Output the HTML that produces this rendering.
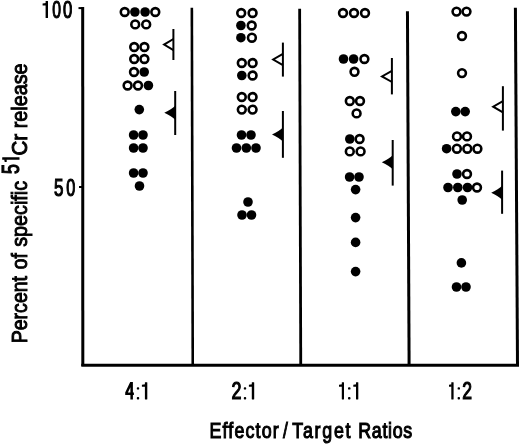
<!DOCTYPE html>
<html><head><meta charset="utf-8"><style>
html,body{margin:0;padding:0;background:#fff;}
svg{display:block;filter:grayscale(1);}
</style></head><body>
<svg width="520" height="445" viewBox="0 0 520 445">
<rect width="520" height="445" fill="#fff"/>
<path d="M82.7 7 L82.8 366" stroke="#000" stroke-width="3" fill="none"/>
<path d="M78.5 8.1 L84 8.1" stroke="#000" stroke-width="2" fill="none"/>
<path d="M79 187 L83 187" stroke="#000" stroke-width="2" fill="none"/>
<path d="M81.3 365.2 L519 365.2" stroke="#000" stroke-width="3" fill="none"/>
<path d="M191.85 7.7 L192.75 365" stroke="#000" stroke-width="2.6" fill="none"/>
<path d="M299.65 8.8 L300.75 365" stroke="#000" stroke-width="2.8" fill="none"/>
<path d="M407.45 11.2 L409.1 365" stroke="#000" stroke-width="3" fill="none"/>
<path d="M515.4 7.75 L517.5 366" stroke="#000" stroke-width="3" fill="none"/>
<circle cx="124.7" cy="12" r="3.9000000000000004" fill="#fff" stroke="#000" stroke-width="2.6"/>
<circle cx="134.9" cy="12" r="4.8" fill="#000"/>
<circle cx="145.1" cy="12" r="4.8" fill="#000"/>
<circle cx="155.3" cy="12" r="3.9000000000000004" fill="#fff" stroke="#000" stroke-width="2.6"/>
<circle cx="135.2" cy="24.4" r="3.9000000000000004" fill="#fff" stroke="#000" stroke-width="2.6"/>
<circle cx="146.2" cy="24.4" r="3.9000000000000004" fill="#fff" stroke="#000" stroke-width="2.6"/>
<circle cx="134.2" cy="47" r="3.9000000000000004" fill="#fff" stroke="#000" stroke-width="2.6"/>
<circle cx="144.4" cy="47" r="3.9000000000000004" fill="#fff" stroke="#000" stroke-width="2.6"/>
<circle cx="134.2" cy="59" r="3.9000000000000004" fill="#fff" stroke="#000" stroke-width="2.6"/>
<circle cx="144.4" cy="59" r="3.9000000000000004" fill="#fff" stroke="#000" stroke-width="2.6"/>
<circle cx="134.0" cy="72" r="3.9000000000000004" fill="#fff" stroke="#000" stroke-width="2.6"/>
<circle cx="144.2" cy="72" r="4.8" fill="#000"/>
<circle cx="127.6" cy="85.5" r="3.9000000000000004" fill="#fff" stroke="#000" stroke-width="2.6"/>
<circle cx="138.0" cy="85.5" r="3.9000000000000004" fill="#fff" stroke="#000" stroke-width="2.6"/>
<circle cx="148.4" cy="85.5" r="4.8" fill="#000"/>
<circle cx="139.3" cy="109.6" r="4.8" fill="#000"/>
<circle cx="133.6" cy="135" r="4.8" fill="#000"/>
<circle cx="143.0" cy="135" r="4.8" fill="#000"/>
<circle cx="133.6" cy="148" r="4.8" fill="#000"/>
<circle cx="143.0" cy="148" r="4.8" fill="#000"/>
<circle cx="133.6" cy="173" r="4.8" fill="#000"/>
<circle cx="143.0" cy="173" r="4.8" fill="#000"/>
<circle cx="139.5" cy="186" r="4.8" fill="#000"/>
<circle cx="241.2" cy="13" r="3.9000000000000004" fill="#fff" stroke="#000" stroke-width="2.6"/>
<circle cx="252.6" cy="13" r="3.9000000000000004" fill="#fff" stroke="#000" stroke-width="2.6"/>
<circle cx="240.9" cy="25.5" r="4.8" fill="#000"/>
<circle cx="251.7" cy="25.5" r="3.9000000000000004" fill="#fff" stroke="#000" stroke-width="2.6"/>
<circle cx="240.9" cy="37.7" r="4.8" fill="#000"/>
<circle cx="251.9" cy="37.7" r="3.9000000000000004" fill="#fff" stroke="#000" stroke-width="2.6"/>
<circle cx="241.8" cy="63" r="3.9000000000000004" fill="#fff" stroke="#000" stroke-width="2.6"/>
<circle cx="252.6" cy="63" r="3.9000000000000004" fill="#fff" stroke="#000" stroke-width="2.6"/>
<circle cx="241.8" cy="75.5" r="4.8" fill="#000"/>
<circle cx="252.6" cy="75.5" r="3.9000000000000004" fill="#fff" stroke="#000" stroke-width="2.6"/>
<circle cx="241.8" cy="97" r="3.9000000000000004" fill="#fff" stroke="#000" stroke-width="2.6"/>
<circle cx="252.6" cy="97" r="3.9000000000000004" fill="#fff" stroke="#000" stroke-width="2.6"/>
<circle cx="241.8" cy="109.6" r="3.9000000000000004" fill="#fff" stroke="#000" stroke-width="2.6"/>
<circle cx="252.6" cy="109.6" r="3.9000000000000004" fill="#fff" stroke="#000" stroke-width="2.6"/>
<circle cx="241.5" cy="135" r="4.8" fill="#000"/>
<circle cx="251.0" cy="135" r="4.8" fill="#000"/>
<circle cx="236.5" cy="148" r="4.8" fill="#000"/>
<circle cx="246.3" cy="148" r="4.8" fill="#000"/>
<circle cx="256.0" cy="148" r="4.8" fill="#000"/>
<circle cx="248.0" cy="202" r="4.8" fill="#000"/>
<circle cx="242.0" cy="215" r="4.8" fill="#000"/>
<circle cx="251.5" cy="215" r="4.8" fill="#000"/>
<circle cx="343.0" cy="13" r="3.9000000000000004" fill="#fff" stroke="#000" stroke-width="2.6"/>
<circle cx="354.0" cy="13" r="3.9000000000000004" fill="#fff" stroke="#000" stroke-width="2.6"/>
<circle cx="365.0" cy="13" r="3.9000000000000004" fill="#fff" stroke="#000" stroke-width="2.6"/>
<circle cx="343.5" cy="59" r="4.8" fill="#000"/>
<circle cx="353.6" cy="59" r="4.8" fill="#000"/>
<circle cx="364.4" cy="59" r="3.9000000000000004" fill="#fff" stroke="#000" stroke-width="2.6"/>
<circle cx="354.5" cy="71.8" r="3.9000000000000004" fill="#fff" stroke="#000" stroke-width="2.6"/>
<circle cx="349.8" cy="101" r="3.9000000000000004" fill="#fff" stroke="#000" stroke-width="2.6"/>
<circle cx="360.0" cy="101" r="3.9000000000000004" fill="#fff" stroke="#000" stroke-width="2.6"/>
<circle cx="356.6" cy="113.4" r="3.9000000000000004" fill="#fff" stroke="#000" stroke-width="2.6"/>
<circle cx="349.8" cy="139" r="4.8" fill="#000"/>
<circle cx="359.6" cy="139" r="3.9000000000000004" fill="#fff" stroke="#000" stroke-width="2.6"/>
<circle cx="349.8" cy="151.4" r="3.9000000000000004" fill="#fff" stroke="#000" stroke-width="2.6"/>
<circle cx="360.6" cy="151.4" r="3.9000000000000004" fill="#fff" stroke="#000" stroke-width="2.6"/>
<circle cx="349.6" cy="177" r="4.8" fill="#000"/>
<circle cx="359.0" cy="177" r="4.8" fill="#000"/>
<circle cx="355.6" cy="189.6" r="4.8" fill="#000"/>
<circle cx="355.6" cy="217.6" r="4.8" fill="#000"/>
<circle cx="355.6" cy="242.4" r="4.8" fill="#000"/>
<circle cx="355.6" cy="271.6" r="4.8" fill="#000"/>
<circle cx="456.5" cy="11.6" r="3.9000000000000004" fill="#fff" stroke="#000" stroke-width="2.6"/>
<circle cx="466.5" cy="11.6" r="3.9000000000000004" fill="#fff" stroke="#000" stroke-width="2.6"/>
<circle cx="462.0" cy="36" r="3.9000000000000004" fill="#fff" stroke="#000" stroke-width="2.6"/>
<circle cx="462.0" cy="73.1" r="3.9000000000000004" fill="#fff" stroke="#000" stroke-width="2.6"/>
<circle cx="455.8" cy="111.6" r="4.8" fill="#000"/>
<circle cx="465.2" cy="111.6" r="4.8" fill="#000"/>
<circle cx="457.0" cy="136.4" r="3.9000000000000004" fill="#fff" stroke="#000" stroke-width="2.6"/>
<circle cx="467.0" cy="136.4" r="3.9000000000000004" fill="#fff" stroke="#000" stroke-width="2.6"/>
<circle cx="446.6" cy="148.7" r="4.8" fill="#000"/>
<circle cx="456.9" cy="148.7" r="3.9000000000000004" fill="#fff" stroke="#000" stroke-width="2.6"/>
<circle cx="467.3" cy="148.7" r="3.9000000000000004" fill="#fff" stroke="#000" stroke-width="2.6"/>
<circle cx="477.4" cy="148.7" r="3.9000000000000004" fill="#fff" stroke="#000" stroke-width="2.6"/>
<circle cx="457.0" cy="174" r="4.8" fill="#000"/>
<circle cx="467.0" cy="174" r="3.9000000000000004" fill="#fff" stroke="#000" stroke-width="2.6"/>
<circle cx="448.0" cy="187.5" r="4.8" fill="#000"/>
<circle cx="457.8" cy="187.5" r="4.8" fill="#000"/>
<circle cx="467.5" cy="187.5" r="4.8" fill="#000"/>
<circle cx="477.0" cy="187.5" r="3.9000000000000004" fill="#fff" stroke="#000" stroke-width="2.6"/>
<circle cx="462.2" cy="200" r="4.8" fill="#000"/>
<circle cx="461.4" cy="262.9" r="4.8" fill="#000"/>
<circle cx="456.5" cy="287" r="4.8" fill="#000"/>
<circle cx="466.0" cy="287" r="4.8" fill="#000"/>
<path d="M173.4 29 L173.4 60" stroke="#000" stroke-width="2" fill="none"/>
<path d="M173.4 39.0 L164.1 44.6 L173.4 50.2" stroke="#000" stroke-width="2" fill="none" stroke-linejoin="miter"/>
<path d="M175.2 91 L175.2 135" stroke="#000" stroke-width="2" fill="none"/>
<path d="M164.3 112.7 Q171.7 109.10000000000001 175.2 105.7 L175.2 119.7 Q171.7 116.3 164.3 112.7 Z" fill="#000"/>
<path d="M282.9 42.6 L282.9 76.6" stroke="#000" stroke-width="2" fill="none"/>
<path d="M282.9 53.9 L273.2 59.5 L282.9 65.1" stroke="#000" stroke-width="2" fill="none" stroke-linejoin="miter"/>
<path d="M282.9 111 L282.9 157.8" stroke="#000" stroke-width="2" fill="none"/>
<path d="M272.0 134.4 Q279.4 130.8 282.9 127.4 L282.9 141.4 Q279.4 138.0 272.0 134.4 Z" fill="#000"/>
<path d="M391.9 58 L391.9 94.4" stroke="#000" stroke-width="2" fill="none"/>
<path d="M391.9 70.80000000000001 L382.0 76.4 L391.9 82.0" stroke="#000" stroke-width="2" fill="none" stroke-linejoin="miter"/>
<path d="M392.7 140 L392.7 185.6" stroke="#000" stroke-width="2" fill="none"/>
<path d="M381.8 162.2 Q389.2 158.6 392.7 155.2 L392.7 169.2 Q389.2 165.79999999999998 381.8 162.2 Z" fill="#000"/>
<path d="M502.9 86.2 L502.9 130.6" stroke="#000" stroke-width="2" fill="none"/>
<path d="M502.9 101.10000000000001 L493.2 106.7 L502.9 112.3" stroke="#000" stroke-width="2" fill="none" stroke-linejoin="miter"/>
<path d="M502.1 170.6 L502.1 213.8" stroke="#000" stroke-width="2" fill="none"/>
<path d="M491.2 192.8 Q498.6 189.20000000000002 502.1 185.8 L502.1 199.8 Q498.6 196.4 491.2 192.8 Z" fill="#000"/>
<path d="M45.6 1.2 Q45.6 0.9 45.9 0.9 L47.7 0.9 Q48.0 0.9 48.0 1.2 L48.0 17.7 Q48.0 18.0 47.7 18.0 L45.9 18.0 Q45.6 18.0 45.6 17.7 Z" fill="#000"/><path d="M46.1 2.9 L42.6 3.4 L42.6 5.4 L46.1 5.4 Z" fill="#000"/>
<text x="52.28" y="17.9" font-size="23.2" font-family="Liberation Sans, sans-serif" fill="#000" stroke="#000" stroke-width="1.2" lengthAdjust="spacingAndGlyphs" textLength="8.74">0</text>
<text x="62.97" y="17.9" font-size="23.2" font-family="Liberation Sans, sans-serif" fill="#000" stroke="#000" stroke-width="1.2" lengthAdjust="spacingAndGlyphs" textLength="9.26">0</text>
<text x="54.11" y="195.5" font-size="23.7" font-family="Liberation Sans, sans-serif" fill="#000" stroke="#000" stroke-width="1.2" lengthAdjust="spacingAndGlyphs" textLength="9.47">5</text>
<text x="66.27" y="195.5" font-size="23.7" font-family="Liberation Sans, sans-serif" fill="#000" stroke="#000" stroke-width="1.2" lengthAdjust="spacingAndGlyphs" textLength="9.05">0</text>
<path fill-rule="evenodd" fill="#000" d="M130.2 382.1 L132.9 382.1 L132.9 392.4 L133.9 392.4 L133.9 394.9 L132.9 394.9 L132.9 399.4 L130.4 399.4 L130.4 394.9 L125.2 394.9 L125.2 392.6 Z M127.9 392.4 L130.4 392.4 L130.4 387.3 Z"/>
<rect x="136.8" y="387.3" width="2.3999999999999773" height="2.3" rx="0.9" fill="#000"/><rect x="136.8" y="397.09999999999997" width="2.3999999999999773" height="2.3" rx="0.9" fill="#000"/>
<path d="M144.9 382.5 Q144.9 382.2 145.2 382.2 L147.0 382.2 Q147.3 382.2 147.3 382.5 L147.3 399.1 Q147.3 399.4 147.0 399.4 L145.2 399.4 Q144.9 399.4 144.9 399.1 Z" fill="#000"/><path d="M145.4 384.2 L141.9 384.7 L141.9 386.7 L145.4 386.7 Z" fill="#000"/>
<text x="231.55" y="398.8" font-size="23.7" font-family="Liberation Sans, sans-serif" fill="#000" stroke="#000" stroke-width="1.2" lengthAdjust="spacingAndGlyphs" textLength="10.0">2</text>
<rect x="243.8" y="387.3" width="2.3999999999999773" height="2.3" rx="0.9" fill="#000"/><rect x="243.8" y="397.09999999999997" width="2.3999999999999773" height="2.3" rx="0.9" fill="#000"/>
<path d="M251.8 382.5 Q251.8 382.2 252.1 382.2 L253.9 382.2 Q254.2 382.2 254.2 382.5 L254.2 399.1 Q254.2 399.4 253.9 399.4 L252.1 399.4 Q251.8 399.4 251.8 399.1 Z" fill="#000"/><path d="M252.3 384.2 L248.9 384.7 L248.9 386.7 L252.3 386.7 Z" fill="#000"/>
<path d="M341.8 382.5 Q341.8 382.2 342.1 382.2 L343.7 382.2 Q344.0 382.2 344.0 382.5 L344.0 399.1 Q344.0 399.4 343.7 399.4 L342.1 399.4 Q341.8 399.4 341.8 399.1 Z" fill="#000"/><path d="M342.3 384.2 L339.0 384.7 L339.0 386.7 L342.3 386.7 Z" fill="#000"/>
<rect x="348.0" y="387.3" width="2.5" height="2.3" rx="0.9" fill="#000"/><rect x="348.0" y="397.09999999999997" width="2.5" height="2.3" rx="0.9" fill="#000"/>
<path d="M356.0 382.5 Q356.0 382.2 356.3 382.2 L358.0 382.2 Q358.3 382.2 358.3 382.5 L358.3 399.1 Q358.3 399.4 358.0 399.4 L356.3 399.4 Q356.0 399.4 356.0 399.1 Z" fill="#000"/><path d="M356.5 384.2 L353.3 384.7 L353.3 386.7 L356.5 386.7 Z" fill="#000"/>
<path d="M451.3 382.5 Q451.3 382.2 451.6 382.2 L453.3 382.2 Q453.6 382.2 453.6 382.5 L453.6 399.1 Q453.6 399.4 453.3 399.4 L451.6 399.4 Q451.3 399.4 451.3 399.1 Z" fill="#000"/><path d="M451.8 384.2 L449.0 384.7 L449.0 386.7 L451.8 386.7 Z" fill="#000"/>
<rect x="457.6" y="387.3" width="2.3999999999999773" height="2.3" rx="0.9" fill="#000"/><rect x="457.6" y="397.09999999999997" width="2.3999999999999773" height="2.3" rx="0.9" fill="#000"/>
<text x="462.26" y="398.8" font-size="23.7" font-family="Liberation Sans, sans-serif" fill="#000" stroke="#000" stroke-width="1.2" lengthAdjust="spacingAndGlyphs" textLength="9.78">2</text>
<g transform="translate(209.4,438.1) scale(0.8,1)"><text x="0" y="0" font-size="22.3" font-family="Liberation Sans, sans-serif" fill="#000" stroke="#000" stroke-width="1.0" vector-effect="non-scaling-stroke" textLength="86.69" lengthAdjust="spacing">Effector</text></g>
<text x="282.98" y="438.1" font-size="22.3" font-weight="normal" textLength="4.83" lengthAdjust="spacingAndGlyphs" font-family="Liberation Sans, sans-serif" fill="#000" stroke="#000" stroke-width="1.0" >/</text>
<g transform="translate(292.3,438.1) scale(0.8,1)"><text x="0" y="0" font-size="22.3" font-family="Liberation Sans, sans-serif" fill="#000" stroke="#000" stroke-width="1.0" vector-effect="non-scaling-stroke" textLength="72.81" lengthAdjust="spacing">Target</text></g>
<g transform="translate(358.2,438.1) scale(0.8,1)"><text x="0" y="0" font-size="22.3" font-family="Liberation Sans, sans-serif" fill="#000" stroke="#000" stroke-width="1.0" vector-effect="non-scaling-stroke" textLength="67.56" lengthAdjust="spacing">Ratios</text></g>
<g transform="translate(27.2,344) rotate(-90)"><text x="0.74" y="0" font-size="22.8" font-family="Liberation Sans, sans-serif" fill="#000" stroke="#000" stroke-width="1.0" lengthAdjust="spacingAndGlyphs" textLength="67.31">Percent</text><text x="74.77" y="0" font-size="22.8" font-family="Liberation Sans, sans-serif" fill="#000" stroke="#000" stroke-width="1.0" lengthAdjust="spacingAndGlyphs" textLength="16.03">of</text><text x="97.22" y="0" font-size="22.8" font-family="Liberation Sans, sans-serif" fill="#000" stroke="#000" stroke-width="1.0" lengthAdjust="spacingAndGlyphs" textLength="65.86">specific</text><text x="169.9" y="-8.2" font-size="23.3" font-family="Liberation Sans, sans-serif" fill="#000" stroke="#000" stroke-width="1.2" lengthAdjust="spacingAndGlyphs" textLength="9.89">5</text><path d="M184.3 -24.7 Q184.3 -25.0 184.6 -25.0 L186.5 -25.0 Q186.8 -25.0 186.8 -24.7 L186.8 -8.0 Q186.8 -7.7 186.5 -7.7 L184.6 -7.7 Q184.3 -7.7 184.3 -8.0 Z" fill="#000"/><path d="M184.8 -23.0 L181.9 -22.5 L181.9 -20.5 L184.8 -20.5 Z" fill="#000"/><text x="188.45" y="0" font-size="22.8" font-family="Liberation Sans, sans-serif" fill="#000" stroke="#000" stroke-width="1.0" lengthAdjust="spacingAndGlyphs" textLength="21.69">Cr</text><text x="215.63" y="0" font-size="22.8" font-family="Liberation Sans, sans-serif" fill="#000" stroke="#000" stroke-width="1.0" lengthAdjust="spacingAndGlyphs" textLength="64.95">release</text></g>
</svg>
</body></html>
